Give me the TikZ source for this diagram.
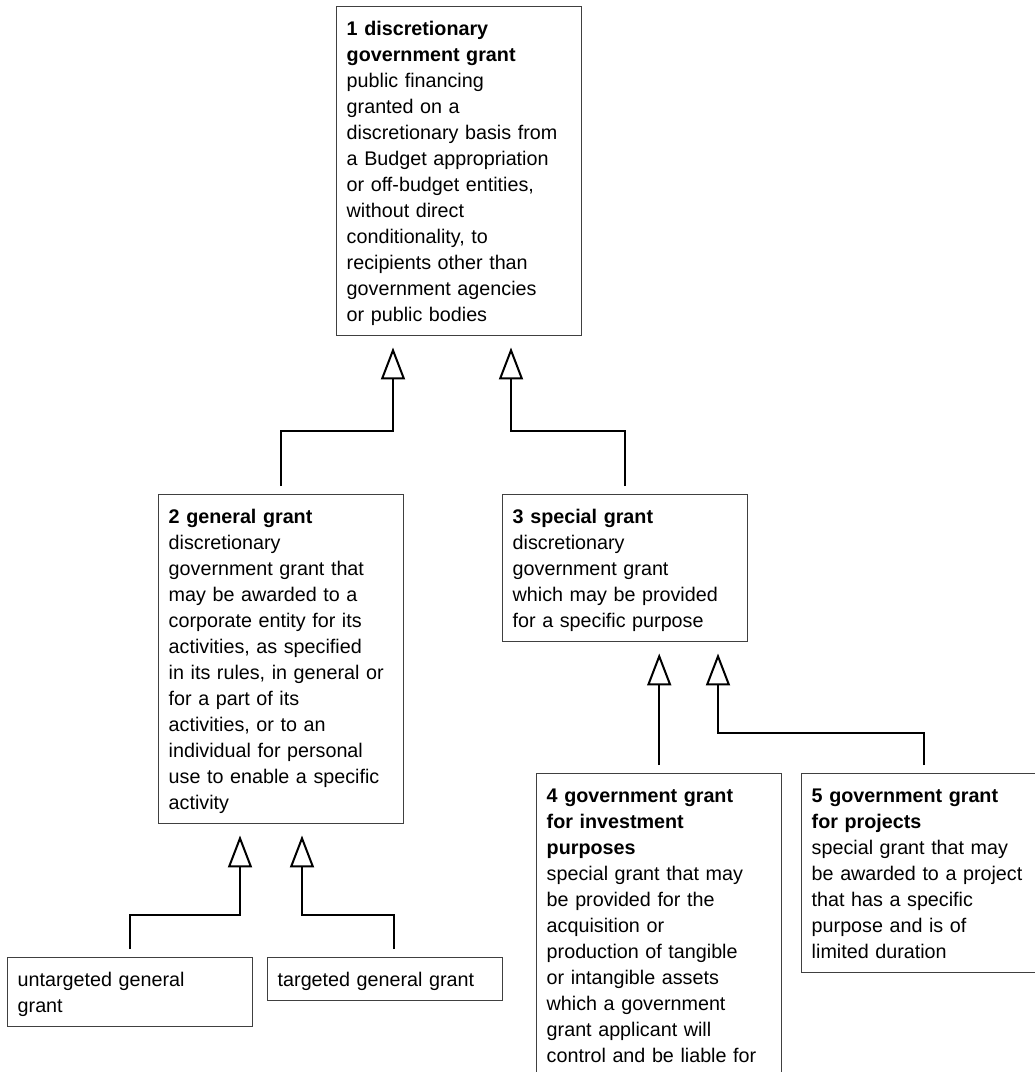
\documentclass[tikz,border=0pt]{standalone}
\usepackage{fontspec}
\setmainfont{Liberation Sans}
\usetikzlibrary{arrows.meta}
\tikzset{
  cls/.style={draw=black!75, line width=1.1pt, anchor=north west, inner xsep=7.5pt, inner ysep=0pt,
    text width=168.75pt, align=left, font=\fontsize{14.8pt}{19.5pt}\selectfont},
  isa/.style={line width=1.5pt, -{Triangle[open,length=24pt,width=18pt]}, shorten >=8.25pt, shorten <=6pt}
}
\newcommand\clstext[2]{\rule{0pt}{21.75pt}\textbf{#1}\\#2\rule[-10.5pt]{0pt}{10.5pt}}
\begin{document}
\begin{tikzpicture}[x=0.75pt,y=-0.75pt]
\useasboundingbox (0,0) rectangle (1035,1072);
\clip (0,0) rectangle (1035,1072);
\node[cls] (gr1) at (336,6) {\clstext{1 discretionary\\government grant}{public financing\\granted on a\\discretionary basis from\\a Budget appropriation\\or off-budget entities,\\without direct\\conditionality, to\\recipients other than\\government agencies\\or public bodies}};
\node[cls] (gr2) at (158,494) {\clstext{2 general grant}{discretionary\\government grant that\\may be awarded to a\\corporate entity for its\\activities, as specified\\in its rules, in general or\\for a part of its\\activities, or to an\\individual for personal\\use to enable a specific\\activity}};
\node[cls] (gr3) at (502,494) {\clstext{3 special grant}{discretionary\\government grant\\which may be provided\\for a specific purpose}};
\node[cls] (gr4) at (536,773) {\clstext{4 government grant\\for investment\\purposes}{special grant that may\\be provided for the\\acquisition or\\production of tangible\\or intangible assets\\which a government\\grant applicant will\\control and be liable for}};
\node[cls] (gr5) at (801,773) {\clstext{5 government grant\\for projects}{special grant that may\\be awarded to a project\\that has a specific\\purpose and is of\\limited duration}};
\node[cls] (gr6) at (7,957) {\rule{0pt}{21.75pt}untargeted general\\grant\rule[-10.5pt]{0pt}{10.5pt}};
\node[cls, text width=161.25pt] (gr7) at (267,957) {\rule{0pt}{21.75pt}targeted general grant\rule[-10.5pt]{0pt}{10.5pt}};
\coordinate (k21) at (393,431);
\coordinate (k31) at (511,431);
\coordinate (k53) at (718,733);
\coordinate (k62) at (240,915);
\coordinate (k72) at (302,915);
\draw[isa] (gr2.north) |- (k21) -- (k21 |- gr1.south);
\draw[isa] (gr3.north) |- (k31) -- (k31 |- gr1.south);
\draw[isa] (gr4.north) -- (gr4.north |- gr3.south);
\draw[isa] (gr5.north) |- (k53) -- (k53 |- gr3.south);
\draw[isa] (gr6.north) |- (k62) -- (k62 |- gr2.south);
\draw[isa] ([xshift=6.75pt]gr7.north) |- (k72) -- (k72 |- gr2.south);
\end{tikzpicture}
\end{document}
